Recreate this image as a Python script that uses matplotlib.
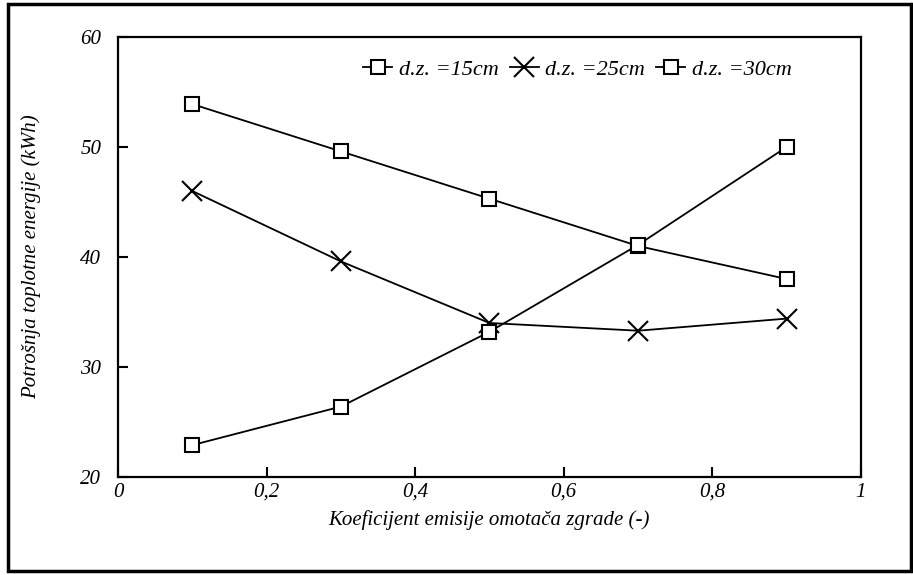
import matplotlib
matplotlib.use("Agg")
import matplotlib.pyplot as plt
from matplotlib.patches import Rectangle

# --- Data ---
x = [0.1, 0.3, 0.5, 0.7, 0.9]
dz15 = [53.9, 49.6, 45.3, 41.0, 38.0]
dz25 = [46.0, 39.6, 34.0, 33.3, 34.4]
dz30 = [22.9, 26.4, 33.2, 41.1, 50.0]

xticks = [0, 0.2, 0.4, 0.6, 0.8, 1]
xticklabels = ["0", "0,2", "0,4", "0,6", "0,8", "1"]
yticks = [20, 30, 40, 50, 60]

plt.rcParams['font.family'] = ['Liberation Serif', 'DejaVu Serif']
plt.rcParams['font.style'] = 'italic'

fig = plt.figure(figsize=(9.13, 5.75), dpi=100)
ax = fig.add_axes([0.1292, 0.1704, 0.8138, 0.7653])

mk = dict(color='black', lw=1.3, mfc='white', mec='black')
ax.plot(x, dz15, marker='s', ms=10, mew=1.5, label='d.z. =15cm', **mk)
ax.plot(x, dz25, marker='x', ms=14, mew=1.5, label='d.z. =25cm', **mk)
ax.plot(x, dz30, marker='s', ms=10, mew=1.5, label='d.z. =30cm', **mk)

ax.set_xlim(0, 1)
ax.set_ylim(20, 60)
ax.set_xticks(xticks)
ax.set_xticklabels(xticklabels)
ax.set_yticks(yticks)
ax.tick_params(direction='in', length=7, width=1.5, labelsize=15)
ax.tick_params(axis='y', pad=12)
ax.tick_params(axis='x', pad=4)
for s in ax.spines.values():
    s.set_linewidth(1.6)

ax.set_xlabel("Koeficijent emisije omotača zgrade (-)", fontsize=15, labelpad=6)
ax.set_ylabel("Potrošnja toplotne energije (kWh)", fontsize=15, labelpad=28)

ax.legend(loc='center left', bbox_to_anchor=(0.33, 0.925), ncol=3, frameon=False,
          fontsize=16, handlelength=1.3, handletextpad=0.3, columnspacing=0.5,
          borderpad=0, borderaxespad=0)

# scanned-page frame around the whole figure
fig.patches.append(Rectangle((8 / 913, 4 / 575), 903 / 913, 567 / 575,
                             transform=fig.transFigure, fill=False,
                             edgecolor='black', lw=2.5))

fig.savefig("out.png", dpi=100)
